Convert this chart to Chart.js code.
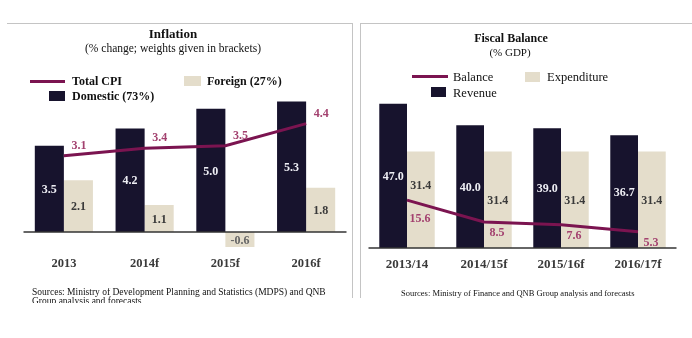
<!DOCTYPE html>
<html>
<head>
<meta charset="utf-8">
<script src="https://cdn.jsdelivr.net/npm/chart.js@4.4.1/dist/chart.umd.min.js"></script>
<style>
  body { margin: 0; background: #fff; }
  #wrap { position: relative; width: 692px; height: 338px; overflow: hidden; font-family: "Liberation Serif", serif; color: #111; }
  canvas { position: absolute; top: 0; }
  .t { position: absolute; white-space: nowrap; }
  .c { transform: translateX(-50%); }
  .hl { position: absolute; background: #c4c4c4; height: 1px; }
  .vl { position: absolute; background: #c4c4c4; width: 1px; }
</style>
</head>
<body>
<div id="wrap">
  <canvas id="inflChart" width="352" height="338" style="left:0"></canvas>
  <canvas id="fiscalChart" width="336" height="338" style="left:356px"></canvas>

  <!-- frames -->
  <div class="hl" style="left:7px;top:23px;width:345px"></div>
  <div class="vl" style="left:352px;top:23px;height:275px"></div>
  <div class="vl" style="left:360px;top:23px;height:275px"></div>
  <div class="hl" style="left:360px;top:23px;width:332px"></div>

  <!-- left titles -->
  <div class="t c" style="left:173px;top:26px;font-size:13px;font-weight:bold;line-height:16px">Inflation</div>
  <div class="t c" style="left:173px;top:41px;font-size:11.5px;line-height:14px">(% change; weights given in brackets)</div>

  <!-- left legend -->
  <div style="position:absolute;left:30px;top:80px;width:35px;height:3px;background:#7b1450"></div>
  <div class="t" style="left:72px;top:73px;font-size:12px;font-weight:bold;line-height:16px">Total CPI</div>
  <div style="position:absolute;left:184px;top:76px;width:17px;height:10px;background:#e4ddcb"></div>
  <div class="t" style="left:207px;top:73px;font-size:12px;font-weight:bold;line-height:16px">Foreign (27%)</div>
  <div style="position:absolute;left:49px;top:91px;width:16px;height:10px;background:#17132d"></div>
  <div class="t" style="left:72px;top:88px;font-size:12px;font-weight:bold;line-height:16px">Domestic (73%)</div>

  <!-- right titles -->
  <div class="t c" style="left:511px;top:30px;font-size:12px;font-weight:bold;line-height:16px">Fiscal Balance</div>
  <div class="t c" style="left:510px;top:45px;font-size:11px;line-height:14px">(% GDP)</div>

  <!-- right legend -->
  <div style="position:absolute;left:412px;top:75px;width:36px;height:3px;background:#7b1450"></div>
  <div class="t" style="left:453px;top:69px;font-size:12.5px;line-height:16px">Balance</div>
  <div style="position:absolute;left:525px;top:72px;width:15px;height:10px;background:#e4ddcb"></div>
  <div class="t" style="left:547px;top:69px;font-size:12.5px;line-height:16px">Expenditure</div>
  <div style="position:absolute;left:431px;top:87px;width:15px;height:10px;background:#17132d"></div>
  <div class="t" style="left:453px;top:85px;font-size:12.5px;line-height:16px">Revenue</div>

  <!-- sources -->
  <div style="position:absolute;left:32px;top:287.5px;width:300px;height:15px;overflow:hidden;font-size:9.5px;line-height:9px">Sources: Ministry of Development Planning and Statistics (MDPS) and QNB<br>Group analysis and forecasts</div>
  <div class="t" style="left:401px;top:288px;font-size:8.5px;line-height:10px">Sources: Ministry of Finance and QNB Group analysis and forecasts</div>
</div>

<script>
// Inflation
const inflYears = ['2013', '2014f', '2015f', '2016f'];
const domestic = [3.5, 4.2, 5.0, 5.3];
const foreign = [2.1, 1.1, -0.6, 1.8];
const totalCpi = [3.1, 3.4, 3.5, 4.4];

// Fiscal balance
const fiscalYears = ['2013/14', '2014/15f', '2015/16f', '2016/17f'];
const revenue = [47.0, 40.0, 39.0, 36.7];
const expenditure = [31.4, 31.4, 31.4, 31.4];
const balance = [15.6, 8.5, 7.6, 5.3];

const navy = '#17132d';
const beige = '#e4ddcb';
const plum = '#7b1450';

// draws the zero line and the value labels
const valueLabels = {
    id: 'valueLabels',
    afterDatasetsDraw(chart, args, opts) {
        const ctx = chart.ctx;
        const y0 = chart.scales.y.getPixelForValue(0);
        ctx.save();
        ctx.strokeStyle = '#333';
        ctx.lineWidth = 1.5;
        ctx.beginPath();
        ctx.moveTo(chart.chartArea.left, y0);
        ctx.lineTo(chart.chartArea.right, y0);
        ctx.stroke();

        ctx.textAlign = 'center';
        ctx.textBaseline = 'middle';
        ctx.font = 'bold 12px "Liberation Serif"';
        chart.data.datasets.forEach((ds, i) => {
            const meta = chart.getDatasetMeta(i);
            const nudge = (opts.nudge && opts.nudge[i]) || [];
            meta.data.forEach((el, j) => {
                const txt = ds.data[j].toFixed(1);
                const n = nudge[j] || 0;
                if (ds.type === 'line') {
                    ctx.fillStyle = '#a3416f';
                    ctx.fillText(txt, el.x + opts.dx, el.y + opts.dy + n);
                } else {
                    ctx.fillStyle = ds.data[j] < 0 ? '#666' : ds.labelColor;
                    ctx.fillText(txt, el.x, (el.y + el.base) / 2 + 1 + n);
                }
            });
        });
        ctx.restore();
    }
};

function makeChart(id, labels, line, bars, yMin, yMax, pad, tickPad, tickSize, lbl) {
    return new Chart(document.getElementById(id), {
        type: 'bar',
        data: {
            labels: labels,
            datasets: [
                {
                    type: 'line', data: line, borderColor: plum, borderWidth: 3,
                    pointRadius: 0, tension: 0, order: 0
                },
                { data: bars[0], backgroundColor: navy, labelColor: '#eeeef4', order: 1 },
                { data: bars[1], backgroundColor: beige, labelColor: '#3a3a3a', order: 1 }
            ]
        },
        options: {
            responsive: false,
            animation: false,
            devicePixelRatio: 1,
            categoryPercentage: 0.72,
            barPercentage: 1.0,
            layout: { padding: pad },
            plugins: {
                legend: { display: false },
                tooltip: { enabled: false },
                valueLabels: lbl
            },
            scales: {
                x: {
                    grid: { display: false, drawTicks: false },
                    border: { display: false },
                    ticks: {
                        padding: tickPad, color: '#3a3a3a',
                        font: { family: '"Liberation Serif"', size: tickSize, weight: 'bold' }
                    }
                },
                y: { display: false, min: yMin, max: yMax }
            }
        },
        plugins: [valueLabels]
    });
}

makeChart('inflChart', inflYears, totalCpi, [domestic, foreign], -0.75, 5.6,
    { left: 23.5, right: 5.5, top: 94, bottom: 61.4 }, 5.5, 12.5, { dx: 15, dy: -10 });
makeChart('fiscalChart', fiscalYears, balance, [revenue, expenditure], 0, 50,
    { left: 12.5, right: 15.5, top: 94.5, bottom: 56.4 }, 9, 13,
    { dx: 13, dy: 11, nudge: { 0: [8, 0, 0, 0], 2: [-15, 0, 0, 0] } });
</script>
</body>
</html>
